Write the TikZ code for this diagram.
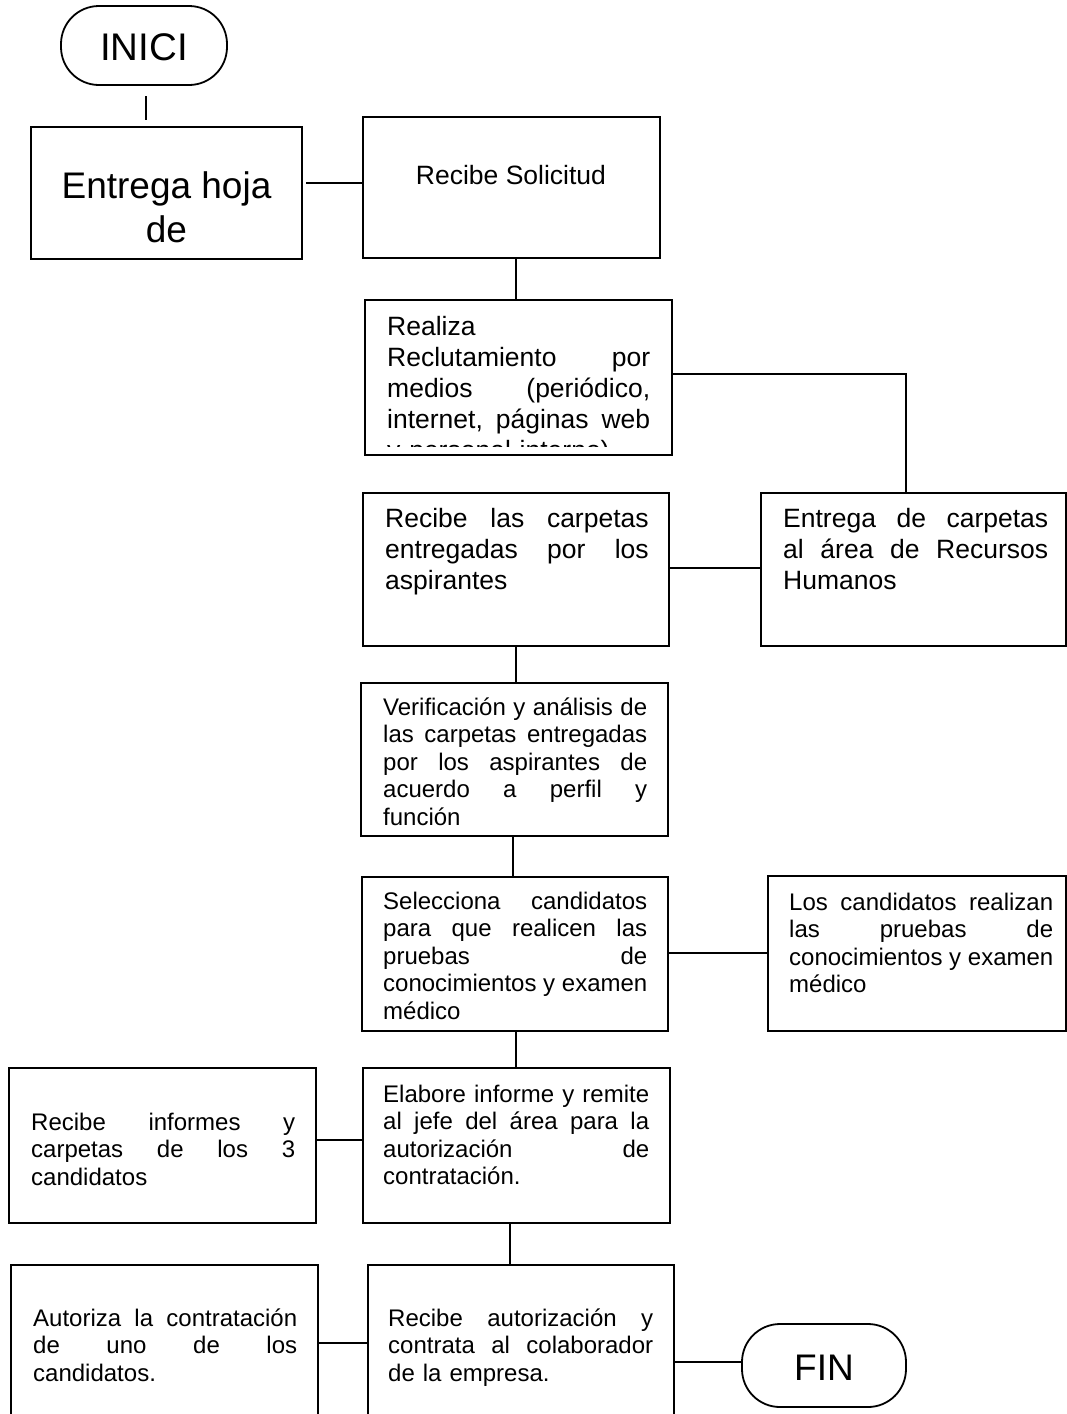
\documentclass[tikz,border=0pt]{standalone}
\usepackage{fontspec}
\setmainfont{Liberation Sans}
\usetikzlibrary{calc}
% one fully justified line of a box text (\jw is the text width of the node)
\newcommand\jl[1]{\leavevmode\hbox to \jw{\frenchspacing\spaceskip=0.278em plus 1fil\relax #1}}
% fixed first-line height, so the first baseline sits 30pt below the node top
\newcommand\fs{\rule{0pt}{30pt}}

\begin{document}
\begin{tikzpicture}[x=1pt,y=-1pt,
  box/.style={draw, line width=1.8pt, rectangle, inner sep=0pt, outer sep=0pt, anchor=north west},
  term/.style={box, rounded corners=38pt},
  link/.style={line width=1.8pt},
  bigtxt/.style={font=\fontsize{37}{44}\selectfont, inner sep=0pt},
  tw/.style={text width=#1, execute at begin node={\def\jw{#1}}},
  midtxt/.style={anchor=north west, inner sep=0pt, align=left,
    font={\fontsize{26.5}{31}\selectfont\parindent=0pt}},
  smltxt/.style={midtxt, font={\fontsize{24}{27.5}\selectfont\parindent=0pt}},
]
\useasboundingbox (0,0) rectangle (1067,1414);
\clip (0,0) rectangle (1067,1414);

% ---------- shapes ----------
\node[term, minimum width=166pt, minimum height=79pt]  (inici)  at (61,6) {};
\node[box,  minimum width=271pt, minimum height=132pt] (entrega) at (31,127) {};
\node[box,  minimum width=297pt, minimum height=141pt] (solic)  at (363,117) {};
\node[box,  minimum width=307pt, minimum height=155pt] (realiza) at (365,300) {};
\node[box,  minimum width=306pt, minimum height=153pt] (rcarp)  at (363,493) {};
\node[box,  minimum width=305pt, minimum height=153pt] (ecarp)  at (761,493) {};
\node[box,  minimum width=307pt, minimum height=153pt] (verif)  at (361,683) {};
\node[box,  minimum width=306pt, minimum height=154pt] (selec)  at (362,877) {};
\node[box,  minimum width=298pt, minimum height=155pt] (cand)   at (768,876) {};
\node[box,  minimum width=307pt, minimum height=155pt] (elab)   at (363,1068) {};
\node[box,  minimum width=307pt, minimum height=155pt] (rinf)   at (9,1068) {};
\node[box,  minimum width=307pt, minimum height=170pt] (autz)   at (11,1265) {};
\node[box,  minimum width=306pt, minimum height=170pt] (rauto)  at (368,1265) {};
\node[term, minimum width=164pt, minimum height=83pt]  (fin)    at (742,1324) {};

% ---------- texts ----------
\node[bigtxt, anchor=base, font=\fontsize{38.5}{44}\selectfont] (tinici) at (144,60) {INICI};
\node[bigtxt, anchor=north, align=center] (tentrega) at (166.5,162)
  {\rule{0pt}{36pt}Entrega hoja\\de};
\node[anchor=base, inner sep=0pt, font=\fontsize{26.5}{31}\selectfont] (tsolic)
  at (511,184) {Recibe Solicitud};

\begin{scope}
  \clip (365,300) rectangle (672,446.5);
  \node[midtxt, tw=263pt] (trealiza) at (387,305)
    {\fs Realiza\\ \jl{Reclutamiento por}\\ \jl{medios (periódico,}\\
     \jl{internet, páginas web}\\ y personal interno)};
\end{scope}

\node[midtxt, tw=263.5pt] (trcarp) at (385,497)
  {\fs\jl{Recibe las carpetas}\\ \jl{entregadas por los}\\ aspirantes};
\node[midtxt, tw=265pt] (tecarp) at (783,497)
  {\fs\jl{Entrega de carpetas}\\ \jl{al área de Recursos}\\ Humanos};
\node[smltxt, tw=264pt] (tverif) at (383,685)
  {\fs\jl{Verificación y análisis de}\\ \jl{las carpetas entregadas}\\
   \jl{por los aspirantes de}\\ \jl{acuerdo a perfil y}\\ función};
\node[smltxt, tw=264pt] (tselec) at (383,879)
  {\fs\jl{Selecciona candidatos}\\ \jl{para que realicen las}\\
   \jl{pruebas de}\\ \jl{conocimientos y examen}\\ médico};
\node[smltxt, tw=264pt] (tcand) at (789,880)
  {\fs\jl{Los candidatos realizan}\\ \jl{las pruebas de}\\
   \jl{conocimientos y examen}\\ médico};
\node[smltxt, tw=266pt] (telab) at (383,1072)
  {\fs\jl{Elabore informe y remite}\\ \jl{al jefe del área para la}\\
   \jl{autorización de}\\ contratación.};
\node[smltxt, tw=264pt] (trinf) at (31,1100)
  {\fs\jl{Recibe informes y}\\ \jl{carpetas de los 3}\\ candidatos};
\node[smltxt, tw=264pt] (tautz) at (33,1296)
  {\fs\jl{Autoriza la contratación}\\ \jl{de uno de los}\\ candidatos.};
\node[smltxt, tw=265pt] (trauto) at (388,1296)
  {\fs\jl{Recibe autorización y}\\ \jl{contrata al colaborador}\\ de la empresa.};
\node[bigtxt, anchor=base] (tfin) at (824,1380) {FIN};

% ---------- connectors ----------
\draw[link] ($(inici.south)+(2,11)$) -- ($(inici.south |- entrega.north)+(2,-7)$);
\draw[link] ($(entrega.east |- 0,183)+(4,0)$) -- (solic.west |- 0,183);
\draw[link] (solic.south -| 516,0) -- (realiza.north -| 516,0);
\draw[link] (realiza.east |- 0,374) -| (ecarp.north -| 906,0);
\draw[link] (ecarp.west |- 0,568) -- (rcarp.east |- 0,568);
\draw[link] (rcarp.south -| 516,0) -- (verif.north -| 516,0);
\draw[link] (verif.south -| 513,0) -- (selec.north -| 513,0);
\draw[link] (selec.east |- 0,953) -- (cand.west |- 0,953);
\draw[link] (selec.south -| 516,0) -- (elab.north -| 516,0);
\draw[link] (elab.west |- 0,1140) -- (rinf.east |- 0,1140);
\draw[link] (elab.south -| 510,0) -- (rauto.north -| 510,0);
\draw[link] (rauto.west |- 0,1343) -- (autz.east |- 0,1343);
\draw[link] (rauto.east |- 0,1362) -- (fin.west |- 0,1362);
\end{tikzpicture}
\end{document}
